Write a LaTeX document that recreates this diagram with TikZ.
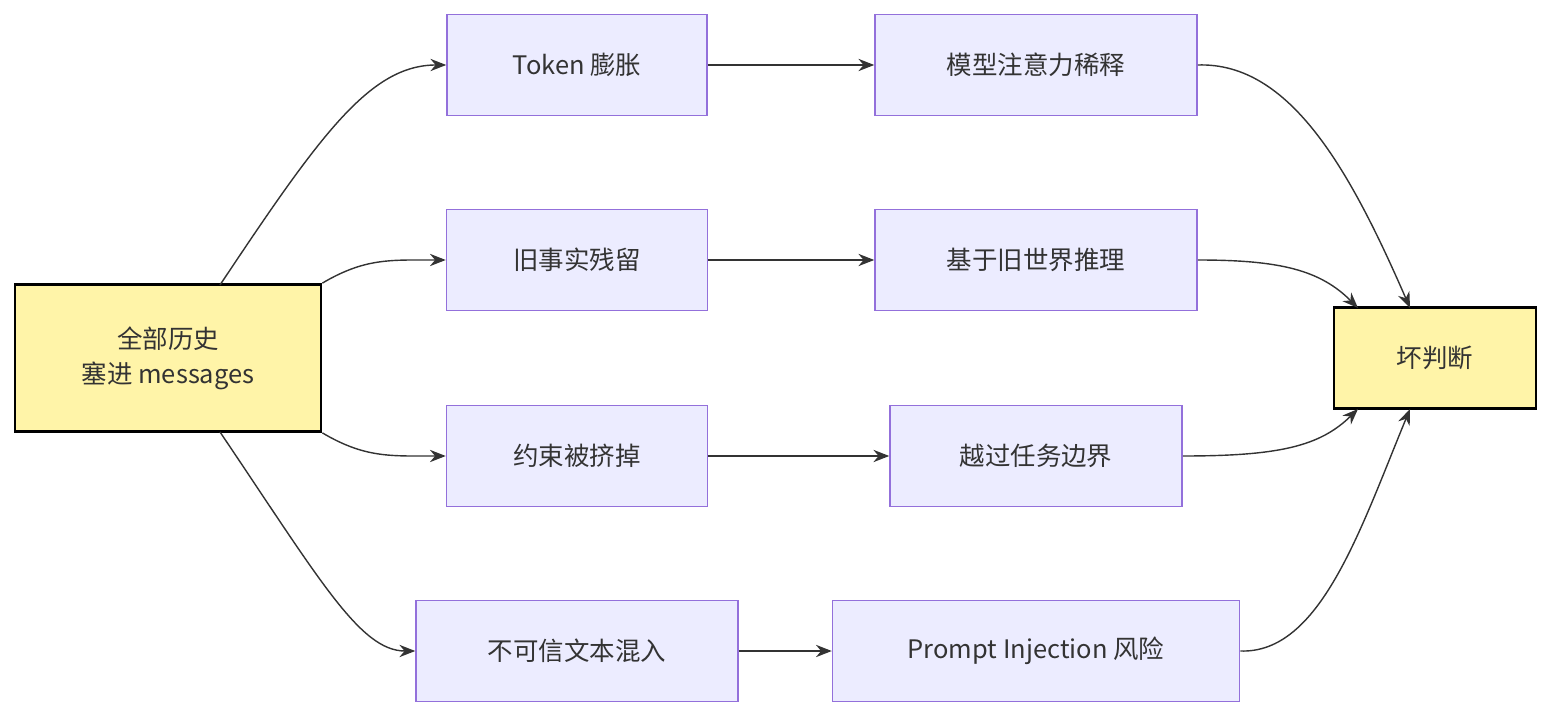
\documentclass[tikz,border=0pt]{standalone}
\usepackage{fontspec}
\setmainfont{Noto Sans CJK SC}
\usetikzlibrary{arrows.meta}
\definecolor{pfill}{HTML}{ECECFF}
\definecolor{pline}{HTML}{9370DB}
\definecolor{yfill}{HTML}{FFF4A8}
\definecolor{ln}{HTML}{333333}
\begin{document}
\begin{tikzpicture}[x=0.02cm,y=-0.02cm,
 box/.style={draw=pline,fill=pfill,line width=0.9pt,minimum height=2.02cm,inner sep=0pt,font=\fontsize{14.5}{18}\selectfont,text=ln},
 ybox/.style={draw=black,fill=yfill,line width=1.6pt,inner sep=0pt,align=center,font=\fontsize{14.5}{20}\selectfont,text=ln},
 arr/.style={draw=ln,line width=0.8pt,-{Stealth[length=9pt,width=7pt]}}]
\useasboundingbox (0,0) rectangle (1568,726);
\node[ybox,minimum width=6.12cm,minimum height=2.94cm] (A) at (168,358) {全部历史\\塞进 messages};
\node[ybox,minimum width=4.04cm,minimum height=2.02cm] (B) at (1435,358) {坏判断};
\node[box,minimum width=5.2cm] (T1) at (577,65) {Token 膨胀};
\node[box,minimum width=6.44cm] (T2) at (1036,65) {模型注意力稀释};
\node[box,minimum width=5.22cm] (O1) at (577,260) {旧事实残留};
\node[box,minimum width=6.44cm] (O2) at (1036,260) {基于旧世界推理};
\node[box,minimum width=5.22cm] (C1) at (577,456) {约束被挤掉};
\node[box,minimum width=5.84cm] (C2) at (1036,456) {越过任务边界};
\node[box,minimum width=6.44cm] (U1) at (577,651) {不可信文本混入};
\node[box,minimum width=8.14cm] (U2) at (1036,651) {Prompt Injection 风险};
\coordinate (As) at (220,285);
\coordinate (Ad) at (220,432);
\coordinate (Bl) at (1358,308);
\coordinate (Bt) at (1410,308);
\coordinate (Bb) at (1410,409);
\coordinate (Bd) at (1358,409);
\draw[arr] (As) .. controls (320,135) and (370,65) .. (T1.west);
\draw[arr] (A.north east) .. controls (365,258) and (390,260) .. (O1.west);
\draw[arr] (A.south east) .. controls (365,458) and (390,456) .. (C1.west);
\draw[arr] (Ad) .. controls (320,580) and (360,651) .. (U1.west);
\draw[arr] (T1) -- (T2);
\draw[arr] (O1) -- (O2);
\draw[arr] (C1) -- (C2);
\draw[arr] (U1) -- (U2);
\draw[arr] (T2.east) .. controls (1290,62) and (1350,170) .. (Bt);
\draw[arr] (O2.east) .. controls (1280,260) and (1320,270) .. (Bl);
\draw[arr] (C2.east) .. controls (1280,456) and (1320,446) .. (Bd);
\draw[arr] (U2.east) .. controls (1320,654) and (1360,530) .. (Bb);
\end{tikzpicture}
\end{document}
